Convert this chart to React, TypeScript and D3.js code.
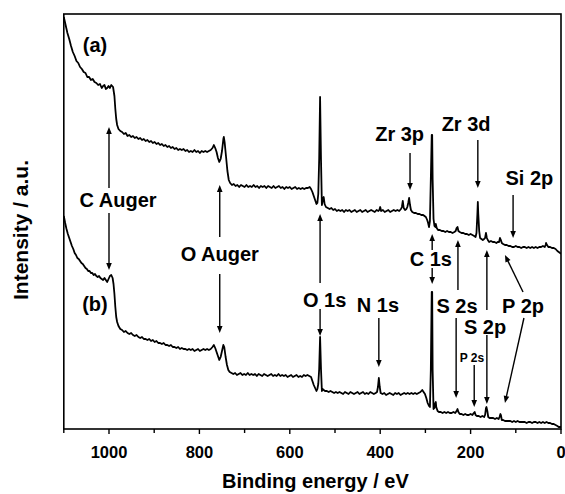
import React from "react";
import * as d3 from "d3";

// XPS survey spectra: binding energy (eV) vs. intensity (a.u.)
const spectrumA: [number, number][] = [
  [1100,412],[1096,404],[1092,396],[1088,390],[1084,383],[1080,377],[1076,373],[1072,368],[1068,366],[1064,362],[1060,360],[1056,357],[1052,356],[1048,352],[1044,352],[1040,349],[1036,350],[1032,347],[1028,346],[1024,344],[1020,345],[1016,341],[1013,343],[1010,344],[1007,340],[1004,341],[1001,343],[998,341],[995,344],[991,342],[988,333],[986,320],[984,310],[982,304],[979,300],[975,298],[971,297],[967,295],[963,296],[959,293],[955,294],[951,292],[947,293],[943,291],[939,292],[935,290],[931,291],[927,289],[923,290],[919,288],[915,289],[911,287],[907,288],[903,286],[899,287],[895,285],[891,286],[887,284],[883,285],[879,283],[875,284],[871,282],[867,283],[863,281],[859,282],[855,280],[851,281],[847,279],[843,280],[839,279],[835,280],[831,278],[827,279],[823,277],[819,278],[815,277],[811,279],[807,277],[803,278],[799,276],[795,278],[791,277],[787,278],[783,277],[779,278],[775,279],[771,281],[768,284],[765,281],[762,277],[759,271],[756,267],[753,270],[750,278],[747,290],[746,292],[744,286],[741,272],[738,258],[735,249],[732,246],[728,244],[724,245],[720,243],[716,244],[712,242],[708,244],[704,243],[700,242],[696,244],[692,242],[688,243],[684,242],[680,244],[676,242],[672,243],[668,241],[664,243],[660,242],[656,243],[652,241],[648,243],[644,242],[640,241],[636,243],[632,241],[628,242],[624,243],[620,241],[616,242],[612,240],[608,242],[604,241],[600,242],[596,240],[592,241],[588,242],[584,240],[580,241],[576,240],[572,241],[568,240],[564,241],[560,241],[556,242],[553,240],[550,237],[547,233],[544,229],[541,225],[539,226],[537,235],[535,270],[533,332],[531,270],[529,224],[527,229],[525,232],[523,225],[520,222],[516,221],[512,220],[508,221],[504,219],[500,220],[496,218],[492,219],[488,218],[484,219],[480,217],[476,219],[472,218],[468,219],[464,217],[460,218],[456,219],[452,217],[448,218],[444,219],[440,217],[436,218],[432,219],[428,217],[424,218],[420,219],[416,218],[412,217],[408,219],[404,218],[402,219],[400,222],[398,218],[394,219],[390,217],[386,218],[382,219],[378,217],[374,218],[370,219],[366,218],[362,219],[358,218],[354,220],[352,222],[350,228],[348,221],[345,219],[342,220],[340,222],[338,226],[336,231],[334,224],[332,219],[329,217],[325,216],[321,216],[317,215],[313,215],[309,214],[305,214],[302,213],[299,212],[296,209],[294,206],[292,202],[290,208],[288,250],[286,294],[285,294],[284,250],[282,210],[280,203],[278,202],[277,205],[275,201],[272,199],[268,199],[264,198],[260,198],[256,197],[252,198],[248,197],[244,197],[240,196],[236,197],[233,198],[231,201],[229,202],[227,198],[224,197],[220,196],[216,196],[212,195],[208,195],[204,194],[200,195],[196,194],[192,193],[189,192],[187,196],[185,215],[184,227],[183,215],[181,198],[179,191],[176,190],[173,189],[170,190],[168,191],[166,196],[164,191],[162,189],[159,187],[155,188],[151,187],[147,187],[143,186],[140,187],[137,187],[135,191],[133,189],[131,186],[128,185],[124,184],[120,184],[116,183],[112,183],[108,182],[104,182],[100,183],[96,182],[92,182],[88,181],[84,182],[80,182],[76,181],[72,182],[68,181],[64,182],[60,181],[56,182],[52,181],[48,182],[44,182],[40,183],[36,182],[34,184],[33,186],[31,184],[28,182],[24,182],[20,181],[16,181],[12,180],[8,178],[5,177],[2,176],[0,175]
];

const spectrumB: [number, number][] = [
  [1100,213],[1097,206],[1094,200],[1091,195],[1088,191],[1085,187],[1082,183],[1079,180],[1076,176],[1073,174],[1070,171],[1067,170],[1064,168],[1061,166],[1058,165],[1055,163],[1052,161],[1049,160],[1046,158],[1043,158],[1040,156],[1037,156],[1034,154],[1031,155],[1028,153],[1025,152],[1022,153],[1019,151],[1016,150],[1013,149],[1010,151],[1007,149],[1004,147],[1001,150],[998,153],[995,154],[992,151],[990,145],[988,135],[986,122],[984,112],[982,107],[979,103],[975,100],[971,99],[967,97],[963,98],[959,96],[955,95],[951,96],[947,94],[943,93],[939,94],[935,92],[931,91],[927,92],[923,90],[919,90],[915,89],[911,90],[907,88],[903,89],[899,87],[895,88],[891,86],[887,86],[883,85],[879,86],[875,84],[871,84],[867,83],[863,84],[859,82],[855,82],[851,81],[847,82],[843,80],[839,81],[835,80],[831,80],[827,79],[823,80],[819,79],[815,80],[811,78],[807,79],[803,80],[799,78],[795,79],[791,80],[787,79],[783,80],[779,79],[775,80],[771,82],[768,84],[765,81],[762,77],[759,73],[756,69],[753,72],[750,78],[747,84],[745,82],[742,72],[739,64],[736,59],[733,57],[729,56],[725,55],[721,56],[717,54],[713,55],[709,56],[705,54],[701,55],[697,54],[693,56],[689,54],[685,55],[681,54],[677,55],[673,53],[669,55],[665,54],[661,53],[657,55],[653,54],[649,53],[645,54],[641,55],[637,53],[633,54],[629,53],[625,55],[621,53],[617,54],[613,53],[609,54],[605,52],[601,53],[597,54],[593,52],[589,53],[585,54],[581,52],[577,53],[573,52],[569,54],[565,53],[561,54],[557,53],[553,52],[550,48],[547,44],[544,41],[541,38],[539,40],[537,45],[535,60],[533,92],[531,60],[529,38],[527,40],[525,39],[522,38],[518,38],[514,37],[510,38],[506,37],[502,36],[498,37],[494,36],[490,37],[486,36],[482,35],[478,37],[474,36],[470,35],[466,37],[462,36],[458,35],[454,36],[450,37],[446,35],[442,36],[438,37],[434,35],[430,36],[426,35],[422,37],[418,36],[414,35],[410,36],[407,37],[405,42],[403,51],[401,42],[399,36],[395,35],[391,36],[387,34],[383,35],[379,36],[375,35],[371,34],[367,36],[363,35],[359,36],[355,34],[351,35],[347,36],[343,35],[339,36],[335,35],[331,36],[327,35],[323,36],[319,35],[315,36],[311,37],[307,39],[304,37],[301,35],[298,31],[295,26],[292,23],[290,22],[288,59],[286,137],[285,137],[284,59],[282,20],[280,21],[278,26],[277,27],[276,22],[273,18],[270,17],[266,17],[262,16],[258,17],[254,16],[250,17],[246,16],[242,16],[238,17],[234,16],[231,18],[229,20],[227,17],[224,15],[220,15],[216,14],[212,15],[208,14],[204,14],[200,15],[196,14],[193,16],[191,17],[189,14],[186,13],[182,13],[178,12],[174,13],[170,12],[168,14],[166,21],[165,22],[163,18],[161,12],[158,11],[154,11],[150,11],[146,10],[142,11],[138,10],[136,12],[134,15],[133,14],[131,9],[128,9],[124,8],[120,8],[116,8],[112,8],[108,7],[104,8],[100,7],[96,8],[92,7],[88,7],[84,7],[80,7],[76,6],[72,7],[68,7],[64,6],[60,7],[56,7],[52,6],[48,7],[44,6],[40,7],[36,6],[32,7],[28,6],[24,6],[20,5],[16,5],[12,4],[8,3],[5,2],[2,2],[0,2]
];

const tickValues = [1100, 1000, 900, 800, 700, 600, 500, 400, 300, 200, 100, 0];
const tickLabels = [1000, 800, 600, 400, 200, 0];

// Peak labels: text, energy (eV), intensity at baseline
const peakLabels: { text: string; e: number; h: number; small?: boolean }[] = [
  { text: "(a)", e: 1031, h: 377 },
  { text: "(b)", e: 1031, h: 118 },
  { text: "C Auger", e: 980, h: 222 },
  { text: "O Auger", e: 755, h: 168 },
  { text: "Zr 3p", e: 357, h: 288 },
  { text: "Zr 3d", e: 210, h: 298 },
  { text: "Si 2p", e: 70, h: 244 },
  { text: "C 1s", e: 288, h: 163 },
  { text: "O 1s", e: 523, h: 122 },
  { text: "N 1s", e: 405, h: 117 },
  { text: "S 2s", e: 230, h: 116 },
  { text: "S 2p", e: 168, h: 95 },
  { text: "P 2s", e: 197, h: 67, small: true },
  { text: "P 2p", e: 84, h: 116 },
];

// Arrows pointing from labels to peaks: [e1, h1] tail -> [e2, h2] tip
const peakArrows: [number, number, number, number][] = [
  [1000, 241, 1000, 302],
  [1000, 216, 1000, 159],
  [755, 192, 755, 244],
  [755, 155, 755, 96],
  [533, 146, 533, 215],
  [533, 120, 533, 93],
  [403, 111, 403, 62],
  [334, 276, 334, 239],
  [184, 289, 184, 241],
  [106, 234, 106, 191],
  [285, 179, 285, 195],
  [285, 161, 285, 145],
  [228, 139, 228, 189],
  [232, 111, 232, 31],
  [164, 119, 164, 179],
  [164, 94, 164, 25],
  [192, 64, 192, 22],
  [84, 137, 124, 174],
  [82, 111, 124, 26],
];

const W = 565;
const H = 494;
const left = 63.8;
const right = 561;
const top = 14;
const bottom = 429;
const FONT = "'Liberation Sans', Arial, Helvetica, sans-serif";

export default function App() {
  const x = d3.scaleLinear().domain([1100, 0]).range([left, right]);
  const y = d3.scaleLinear().domain([0, 415]).range([bottom, top]);
  const line = d3
    .line<[number, number]>()
    .x((d) => x(d[0]))
    .y((d) => y(d[1]));

  const arrow = (a: [number, number, number, number], i: number) => {
    const x1 = x(a[0]);
    const y1 = y(a[1]);
    const x2 = x(a[2]);
    const y2 = y(a[3]);
    const dx = x2 - x1;
    const dy = y2 - y1;
    const len = Math.hypot(dx, dy);
    const ux = dx / len;
    const uy = dy / len;
    const L = 7;
    const w = 2.8;
    const bx = x2 - ux * L;
    const by = y2 - uy * L;
    const head = `M${x2},${y2}L${bx - uy * w},${by + ux * w}L${bx + uy * w},${by - ux * w}Z`;
    return (
      <g key={i}>
        <line x1={x1} y1={y1} x2={bx + ux} y2={by + uy} stroke="#000" strokeWidth={1.4} />
        <path d={head} fill="#000" />
      </g>
    );
  };

  return (
    <svg
      width={W}
      height={H}
      style={{ position: "absolute", left: 0, top: 0, background: "#fff" }}
      fontFamily={FONT}
      fontWeight="bold"
    >
      <defs>
        <clipPath id="plot-area">
          <rect x={left} y={top} width={right - left} height={bottom - top} />
        </clipPath>
      </defs>
      <rect x={0} y={0} width={W} height={H} fill="#fff" />

      <g clipPath="url(#plot-area)">
        <path d={line(spectrumA) || ""} fill="none" stroke="#000" strokeWidth={1.8} strokeLinejoin="round" />
        <path d={line(spectrumB) || ""} fill="none" stroke="#000" strokeWidth={1.8} strokeLinejoin="round" />
      </g>

      {peakArrows.map(arrow)}

      {peakLabels.map((l, i) => (
        <text
          key={i}
          x={x(l.e)}
          y={y(l.h)}
          textAnchor="middle"
          fontSize={l.small ? 12 : 20}
          fill="#000"
        >
          {l.text}
        </text>
      ))}

      <rect x={left} y={top} width={right - left} height={bottom - top} fill="none" stroke="#000" strokeWidth={1.6} />

      {tickValues.map((t) => {
        const major = tickLabels.includes(t);
        return (
          <line key={t} x1={x(t)} x2={x(t)} y1={bottom} y2={bottom + (major ? 5 : 4)} stroke="#000" strokeWidth={1.4} />
        );
      })}
      {tickLabels.map((t) => (
        <text key={t} x={x(t)} y={458} textAnchor="middle" fontSize={16.5} fill="#000">
          {t}
        </text>
      ))}

      <text x={(left + right) / 2 + 3} y={488} textAnchor="middle" fontSize={20} fill="#000">
        Binding energy / eV
      </text>
      <text
        transform={`translate(28,230) rotate(-90)`}
        textAnchor="middle"
        fontSize={21}
        fill="#000"
      >
        Intensity / a.u.
      </text>
    </svg>
  );
}
